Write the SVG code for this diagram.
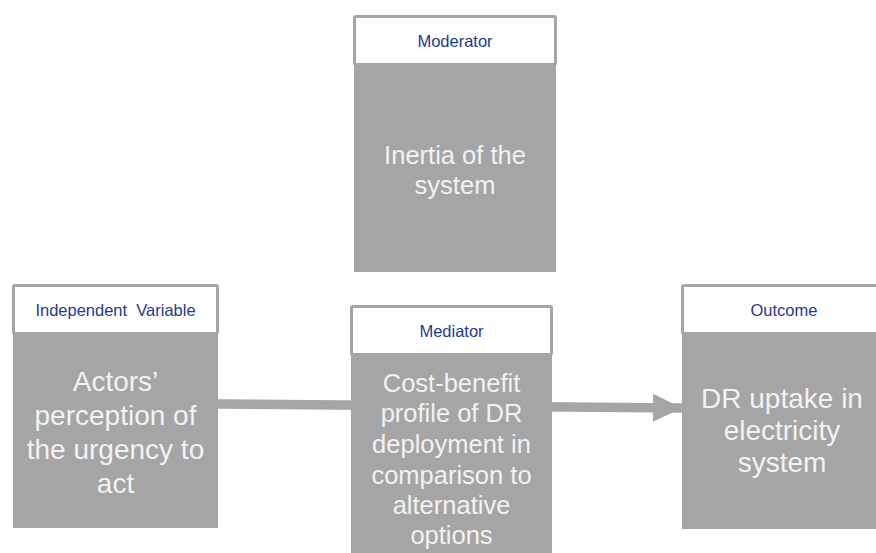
<svg xmlns="http://www.w3.org/2000/svg" width="876" height="553" viewBox="0 0 876 553">
<defs>
<style>
.hdr{fill:#ffffff;stroke:#a6a6a6;stroke-width:3}
.body{fill:#a5a5a5}
.ht{font-family:"Liberation Sans",Arial,sans-serif;font-size:16.5px;fill:#1f3a8a;text-anchor:middle}
.bt{font-family:"Liberation Sans",Arial,sans-serif;fill:#f2f2f2;text-anchor:middle}
.conn{stroke:#a5a5a5;stroke-width:9.5;fill:none}
</style>
<marker id="ah" markerUnits="userSpaceOnUse" markerWidth="30" markerHeight="30" refX="29" refY="15" orient="auto" viewBox="0 0 30 30">
<path d="M0,1 L29,15 L0,29 Z" fill="#a5a5a5"/>
</marker>
</defs>
<g id="connectors">
<line class="conn" x1="217" y1="404" x2="682" y2="408" marker-end="url(#ah)"/>
</g>
<g id="moderator">
<rect class="body" x="354" y="63" width="202" height="209"/>
<rect class="hdr" x="354.5" y="16.5" width="201" height="48" rx="1.5"/>
<text class="ht" x="455" y="47">Moderator</text>
<text class="bt" font-size="25.5" x="455" y="164">Inertia of the</text>
<text class="bt" font-size="25.5" x="455" y="194">system</text>
</g>
<g id="independent">
<rect class="body" x="13" y="333" width="205" height="195"/>
<rect class="hdr" x="13.5" y="285.5" width="204" height="48" rx="1.5"/>
<text class="ht" x="115.5" y="316" xml:space="preserve">Independent  Variable</text>
<text class="bt" font-size="28" x="115.5" y="391">Actors’</text>
<text class="bt" font-size="28" x="115.5" y="425">perception of</text>
<text class="bt" font-size="28" x="115.5" y="459">the urgency to</text>
<text class="bt" font-size="28" x="115.5" y="493">act</text>
</g>
<g id="mediator">
<rect class="body" x="351" y="354" width="201" height="199"/>
<rect class="hdr" x="351.5" y="306.5" width="200" height="48" rx="1.5"/>
<text class="ht" x="451.5" y="337">Mediator</text>
<text class="bt" font-size="25.5" x="451.5" y="392">Cost-benefit</text>
<text class="bt" font-size="25.5" x="451.5" y="422">profile of DR</text>
<text class="bt" font-size="25.5" x="451.5" y="453">deployment in</text>
<text class="bt" font-size="25.5" x="451.5" y="484">comparison to</text>
<text class="bt" font-size="25.5" x="451.5" y="514">alternative</text>
<text class="bt" font-size="25.5" x="451.5" y="544">options</text>
</g>
<g id="outcome">
<rect class="body" x="682" y="333" width="196" height="196"/>
<rect class="hdr" x="682.5" y="285.5" width="196" height="48" rx="1.5"/>
<text class="ht" x="784" y="316">Outcome</text>
<text class="bt" font-size="28" x="782" y="408">DR uptake in</text>
<text class="bt" font-size="28" x="782" y="440">electricity</text>
<text class="bt" font-size="28" x="782" y="472">system</text>
</g>
</svg>
